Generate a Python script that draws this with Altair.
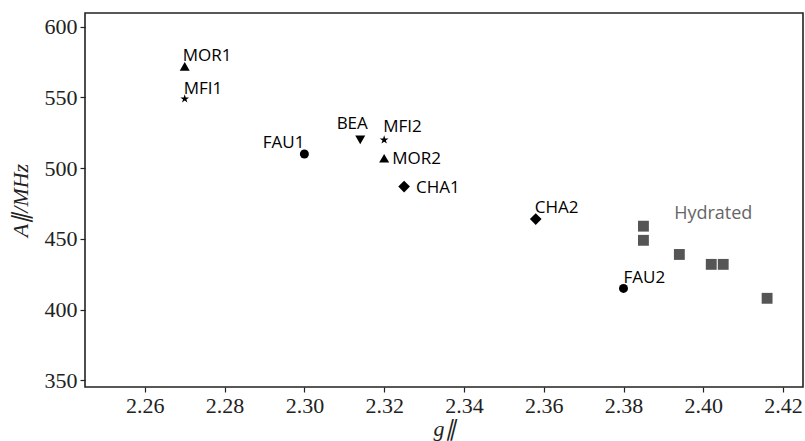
import altair as alt
import pandas as pd

# Zeolite samples (labelled points)
labels = ["MOR1", "MFI1", "FAU1", "BEA", "MFI2", "MOR2", "CHA1", "CHA2", "FAU2"]
frameworks = ["MOR", "MFI", "FAU", "BEA", "MFI", "MOR", "CHA", "CHA", "FAU"]
g_par = [2.270, 2.270, 2.300, 2.314, 2.320, 2.320, 2.325, 2.358, 2.380]
A_par = [572, 549, 510, 520, 520, 507, 487, 464, 415]

# Hydrated samples
hyd_g = [2.385, 2.385, 2.394, 2.402, 2.405, 2.416]
hyd_A = [459, 449, 439, 432, 432, 408]
hyd_label = "Hydrated"
hyd_label_g = [2.3927]
hyd_label_A = [464]

STAR = ("M0,-1L0.2245,-0.309L0.951,-0.309L0.363,0.118L0.588,0.809L0,0.382"
        "L-0.588,0.809L-0.363,0.118L-0.951,-0.309L-0.2245,-0.309Z")
fw_domain = ["MOR", "MFI", "FAU", "BEA", "CHA"]
fw_shapes = ["triangle-up", STAR, "circle", "triangle-down", "diamond"]
fw_sizes = [100, 85, 81, 100, 136]

# label placement style: (dx, dy, align, baseline)
label_style = {
    "MOR1": (-2, -5, "left", "alphabetic"),
    "MFI1": (-1, -5, "left", "alphabetic"),
    "FAU1": (0, -6, "right", "alphabetic"),
    "BEA": (-8, -11, "center", "alphabetic"),
    "MFI2": (-1, -8, "left", "alphabetic"),
    "MOR2": (8, 1, "left", "middle"),
    "CHA1": (12, 1.5, "left", "middle"),
    "CHA2": (-1, -6, "left", "alphabetic"),
    "FAU2": (0, -5.5, "left", "alphabetic"),
}

df = pd.DataFrame({"label": labels, "fw": frameworks, "g": g_par, "A": A_par})
dh = pd.DataFrame({"g": hyd_g, "A": hyd_A})
dl = pd.DataFrame({"g": hyd_label_g, "A": hyd_label_A, "t": [hyd_label]})

xs = alt.Scale(domain=[2.245, 2.425], nice=False, zero=False)
ys = alt.Scale(domain=[345.3, 609.7], nice=False, zero=False)

xaxis = alt.Axis(
    values=[2.26, 2.28, 2.30, 2.32, 2.34, 2.36, 2.38, 2.40, 2.42],
    format=".2f", title="g∥", grid=False, domain=False, orient="bottom",
    tickSize=5, labelPadding=3, titlePadding=2,
)
yaxis = alt.Axis(
    values=[350, 400, 450, 500, 550, 600], title="A∥/MHz", orient="left",
    grid=False, domain=False, tickSize=5, labelPadding=3, titlePadding=12,
)

X = alt.X("g:Q", scale=xs, axis=xaxis)
Y = alt.Y("A:Q", scale=ys, axis=yaxis)

layers = []

hyd = alt.Chart(dh).mark_point(
    filled=True, shape="square", size=118, color="#555555", opacity=1
).encode(x=X, y=Y)
layers.append(hyd)

for fw, shp, sz in zip(fw_domain, fw_shapes, fw_sizes):
    sub = df[df["fw"] == fw]
    layers.append(
        alt.Chart(sub).mark_point(
            filled=True, shape=shp, size=sz, color="black", opacity=1
        ).encode(x=X, y=Y)
    )

layers.append(
    alt.Chart(dl).mark_text(
        align="left", baseline="alphabetic", font="Open Sans", fontSize=18, color="#666666"
    ).encode(x=X, y=Y, text="t:N")
)

for lab in labels:
    dx, dy, al, bl = label_style[lab]
    sub = df[df["label"] == lab]
    layers.append(
        alt.Chart(sub).mark_text(
            dx=dx, dy=dy, align=al, baseline=bl,
            font="Open Sans", fontSize=17, color="black",
        ).encode(x=X, y=Y, text="label:N")
    )

chart = alt.layer(*layers).properties(
    width=718, height=374,
    autosize=alt.AutoSizeParams(type="none"),
    padding={"left": 85, "top": 13, "right": 2, "bottom": 54},
    background="white",
).configure_view(
    stroke="#222222", strokeWidth=1.6
).configure_axis(
    labelFont="Liberation Serif", labelFontSize=22, labelColor="#222222",
    tickColor="#222222", tickWidth=1.2,
    titleFont="Liberation Serif", titleFontSize=22, titleFontStyle="italic",
    titleFontWeight="normal", titleColor="#222222",
)

chart.save("out.html", embed_options={"renderer": "svg", "actions": False})
